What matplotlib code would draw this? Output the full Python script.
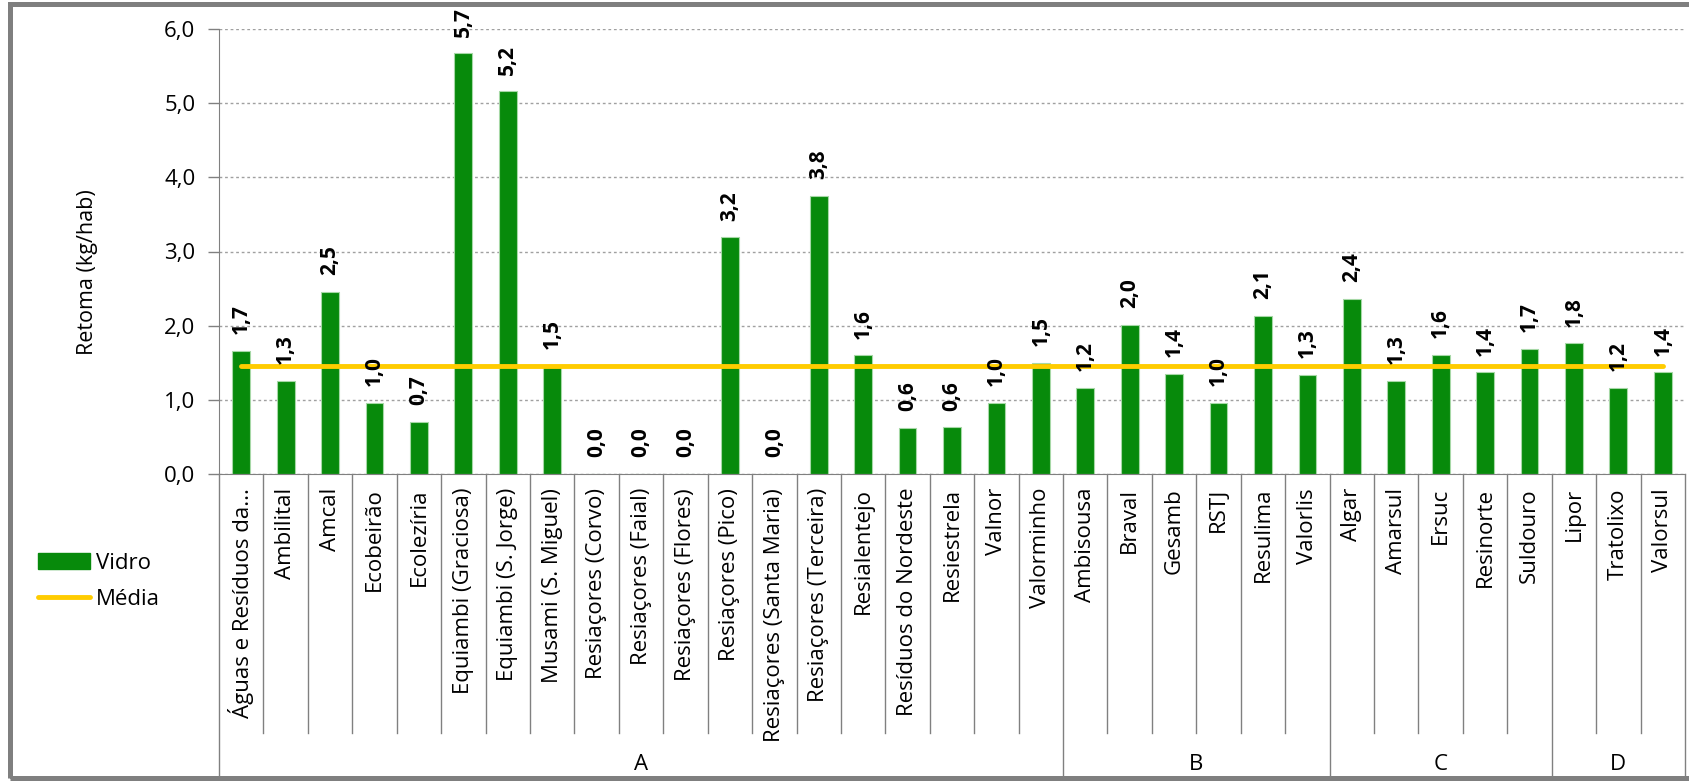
import matplotlib
matplotlib.use("Agg")
import matplotlib.pyplot as plt
from matplotlib.patches import Rectangle, Patch
from matplotlib.lines import Line2D
from matplotlib.transforms import blended_transform_factory
from matplotlib.ticker import FuncFormatter

plt.rcParams['font.family'] = ['Open Sans', 'DejaVu Sans']

categories = [
    "Águas e Resíduos da...", "Ambilital", "Amcal", "Ecobeirão", "Ecolezíria",
    "Equiambi (Graciosa)", "Equiambi (S. Jorge)", "Musami (S. Miguel)",
    "Resiaçores (Corvo)", "Resiaçores (Faial)", "Resiaçores (Flores)",
    "Resiaçores (Pico)", "Resiaçores (Santa Maria)", "Resiaçores (Terceira)",
    "Resialentejo", "Resíduos do Nordeste", "Resiestrela", "Valnor", "Valorminho",
    "Ambisousa", "Braval", "Gesamb", "RSTJ", "Resulima", "Valorlis",
    "Algar", "Amarsul", "Ersuc", "Resinorte", "Suldouro",
    "Lipor", "Tratolixo", "Valorsul",
]
groups = ["A", "B", "C", "D"]
group_sizes = [19, 6, 5, 3]

vidro = [1.66, 1.26, 2.46, 0.96, 0.70, 5.67, 5.16, 1.46, 0.0, 0.0, 0.0,
         3.19, 0.0, 3.75, 1.60, 0.62, 0.63, 0.96, 1.50,
         1.16, 2.01, 1.35, 0.96, 2.13, 1.34,
         2.36, 1.26, 1.61, 1.37, 1.69,
         1.76, 1.16, 1.37]
media = 1.46

W, H = 1689, 782
fig = plt.figure(figsize=(W / 100, H / 100), dpi=100)
fig.patch.set_facecolor("white")

L, R, T, B = 219, 1685, 29, 474
ax = fig.add_axes([L / W, 1 - B / H, (R - L) / W, (B - T) / H])

n = len(categories)
x = list(range(n))
GREEN = "#078a0b"
GOLD = "#ffcc00"
GRAY = "#808080"
FS = 16

ax.bar(x, vidro, width=0.4, color=GREEN, edgecolor="#a6d8a6", linewidth=0.8, zorder=2)
ax.plot([x[0], x[-1]], [media, media], color=GOLD, linewidth=3.5,
        solid_capstyle="round", zorder=3)

for xi, v in zip(x, vidro):
    ax.annotate(f"{v:.1f}".replace(".", ","), (xi, v), xytext=(0, 12),
                textcoords="offset points", rotation=90, ha="center", va="bottom",
                fontsize=15, fontweight="bold", color="black", zorder=4)

ax.set_xlim(-0.5, n - 0.5)
ax.set_ylim(0, 6)
ax.set_yticks([0, 1, 2, 3, 4, 5, 6])
ax.yaxis.set_major_formatter(FuncFormatter(lambda v, p: f"{v:.1f}".replace(".", ",")))
ax.tick_params(axis="y", direction="out", length=8, width=1, color=GRAY,
               labelsize=FS, pad=9)
ax.set_xticks([])
ax.yaxis.grid(True, linestyle=(0, (2, 2)), color="#a0a0a0", linewidth=1, zorder=0)
ax.set_axisbelow(True)
for s in ["top", "right"]:
    ax.spines[s].set_visible(False)
ax.spines["left"].set_color(GRAY)
ax.spines["bottom"].set_color(GRAY)

ax.set_ylabel("Retoma (kg/hab)", fontsize=15.5, labelpad=0)
ax.yaxis.set_label_coords((98 - L) / (R - L), (B - 272) / (B - T))

trans = blended_transform_factory(ax.transData, fig.transFigure)
def fy(py):
    return 1 - py / H

bounds = []
acc = 0
for s in group_sizes:
    acc += s
    bounds.append(acc)
for i in range(n + 1):
    xb = i - 0.5
    y0 = 778 if (i == 0 or i in bounds) else 733
    fig.add_artist(Line2D([xb, xb], [fy(B), fy(y0)], transform=trans,
                          color=GRAY, linewidth=1))

for xi, lab in zip(x, categories):
    fig.text(xi, fy(488), lab, transform=trans, rotation=90, ha="center",
             va="top", fontsize=FS, color="black")

start = 0
for g, s in zip(groups, group_sizes):
    center = start + (s - 1) / 2
    fig.text(center, fy(765), g, transform=trans, ha="center", va="center",
             fontsize=FS, color="black")
    start += s

handles = [Patch(facecolor=GREEN, edgecolor=GREEN, label="Vidro"),
           Line2D([], [], color=GOLD, linewidth=3.5, solid_capstyle="round", label="Média")]
fig.legend(handles=handles, loc="upper left", bbox_to_anchor=(38 / W, fy(553)),
           frameon=False, fontsize=FS, handlelength=2.35, handleheight=0.7,
           handletextpad=0.25, labelspacing=0.68, borderpad=0, borderaxespad=0)

fig.add_artist(Rectangle((9.5 / W, fy(778)), (1700 - 9.5) / W, (778 - 4) / H,
                         transform=fig.transFigure, fill=False, edgecolor="#7f7f7f",
                         linewidth=3.6))

fig.savefig("out.png", dpi=100)
